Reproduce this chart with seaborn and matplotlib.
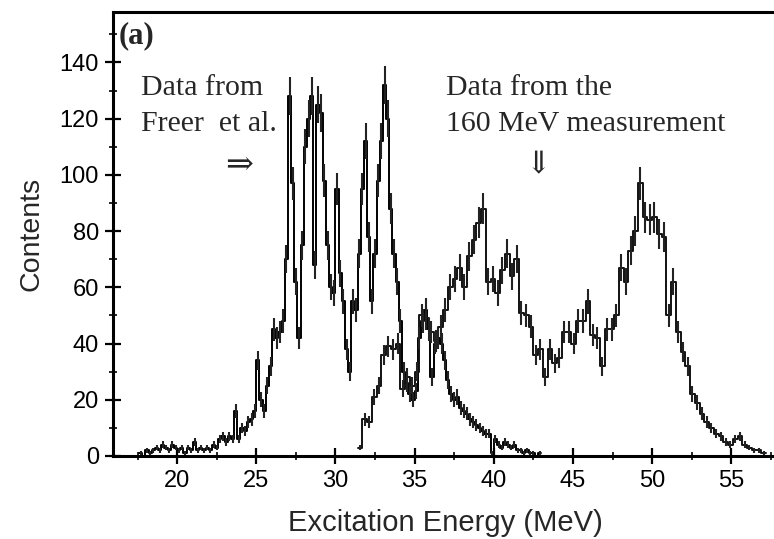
import numpy as np
import pandas as pd
import matplotlib
matplotlib.use("Agg")
import matplotlib.pyplot as plt
import seaborn as sns

# ---- data: Freer et al. (0.2 MeV bins starting at 17.6 MeV) ----
freer_start = 17.6
freer_width = 0.2
freer_counts = [
    1, 0, 2, 1, 2, 3, 2,
    4, 3, 2, 4, 3, 2, 3, 1, 3, 2,
    5, 2, 3, 2, 3, 2, 4, 3, 6, 7,
    5, 7, 6, 16, 6, 10, 9, 12, 13, 16,
    34, 20, 16, 25, 32, 45, 42, 44, 48, 70,
    128, 97, 62, 42, 75, 110, 120, 128, 68, 125,
    122, 98, 75, 60, 58, 95, 65, 55, 38, 30,
    55, 52, 72, 95, 112, 78, 55, 72, 98, 112,
    132, 120, 88, 72, 62, 48, 30, 26, 22, 20,
    23, 42, 48, 52, 45, 28, 40, 42, 40, 34,
    27, 22, 20, 21, 17, 16, 15, 13, 12, 11,
    10, 9, 8, 8, 1, 6, 4, 3, 5, 4,
    3, 4, 2, 2, 1, 2, 1, 1, 0, 1,
]

# ---- data: 160 MeV measurement (0.3 MeV bins starting at 31.4 MeV) ----
meas_start = 31.4
meas_width = 0.3
meas_counts = [
    3, 13, 12, 21, 25, 36, 39, 38, 40, 24,
    28, 25, 30, 50, 49, 44, 41, 46, 52, 60,
    63, 67, 60, 71, 77, 83, 88, 62, 63, 58,
    66, 72, 64, 70, 51, 50, 46, 36, 38, 28,
    38, 33, 35, 44, 44, 40, 48, 48, 55, 43,
    42, 32, 45, 45, 50, 67, 62, 73, 80, 97,
    85, 84, 85, 79, 78, 50, 62, 44, 37, 32,
    22, 19, 15, 12, 10, 8, 7, 5, 4, 6,
    7, 4, 3, 2, 2, 1,
]

x_ticks = [20, 25, 30, 35, 40, 45, 50, 55]
y_ticks = [0, 20, 40, 60, 80, 100, 120, 140]

def make_frame(start, width, counts):
    counts = np.asarray(counts, dtype=float)
    centers = start + width * (np.arange(len(counts)) + 0.5)
    binrange = (start, start + width * len(counts))
    return pd.DataFrame({"energy": centers, "counts": counts}), binrange

freer_df, freer_range = make_frame(freer_start, freer_width, freer_counts)
meas_df, meas_range = make_frame(meas_start, meas_width, meas_counts)

sns.set_theme(style="ticks")
plt.rcParams["font.family"] = ["Liberation Sans", "DejaVu Sans"]

fig = plt.figure(figsize=(7.74, 5.39), dpi=100)
ax = fig.add_axes([0.146, 0.154, 0.853, 0.824])

sns.histplot(data=freer_df, x="energy", weights="counts", binwidth=freer_width,
             binrange=freer_range, element="step", fill=False, color="black",
             linewidth=1.4, ax=ax)
sns.histplot(data=meas_df, x="energy", weights="counts", binwidth=meas_width,
             binrange=meas_range, element="step", fill=False, color="#111111",
             linewidth=1.4, ax=ax)

# statistical error bars
for df in (freer_df, meas_df):
    ax.errorbar(df["energy"], df["counts"], yerr=np.sqrt(df["counts"]) * 0.6,
                fmt="none", ecolor="#222222", elinewidth=1.5, capsize=0)

ax.set_xlim(15.95, 57.65)
ax.set_ylim(0, 158)
ax.set_xticks(x_ticks)
ax.set_yticks(y_ticks)
ax.set_xticks(np.arange(17.5, 57.6, 2.5), minor=True)
ax.set_yticks(np.arange(10, 151, 20), minor=True)
ax.tick_params(axis="both", which="major", direction="inout", length=12, width=1.6,
               labelsize=17, colors="black", pad=4)
ax.tick_params(axis="both", which="minor", direction="inout", length=6, width=1.4)
ax.tick_params(axis="x", top=False)
ax.tick_params(axis="y", right=False)
for side in ("left", "bottom", "top"):
    ax.spines[side].set_linewidth(2.2)
    ax.spines[side].set_color("black")
ax.spines["right"].set_visible(False)

ax.set_xlabel("Excitation Energy (MeV)", fontsize=21)
ax.set_ylabel("Contents", fontsize=20.5)
ax.xaxis.set_label_coords(0.503, -0.12)
ax.yaxis.set_label_coords(-0.104, 0.5)

serif = ["Liberation Serif", "DejaVu Serif"]
ax.text(16.3, 149.5, "(a)", fontsize=22, fontweight="bold", family=serif,
        va="center", ha="left")
ax.text(17.7, 131, "Data from", fontsize=21.5, family=serif, va="center", ha="left")
ax.text(17.7, 118, "Freer  et al.", fontsize=21.5, family=serif, va="center", ha="left")
ax.text(23.9, 103.5, "\u21d2", fontsize=24, family=["DejaVu Serif"], va="center", ha="center")
ax.text(37.0, 131, "Data from the", fontsize=21.5, family=serif, va="center", ha="left")
ax.text(37.0, 118, "160 MeV measurement", fontsize=21.5, family=serif, va="center", ha="left")
ax.text(42.8, 103.5, "\u21d3", fontsize=22, family=["DejaVu Serif"], va="center", ha="center")

fig.savefig("out.png", dpi=100)
